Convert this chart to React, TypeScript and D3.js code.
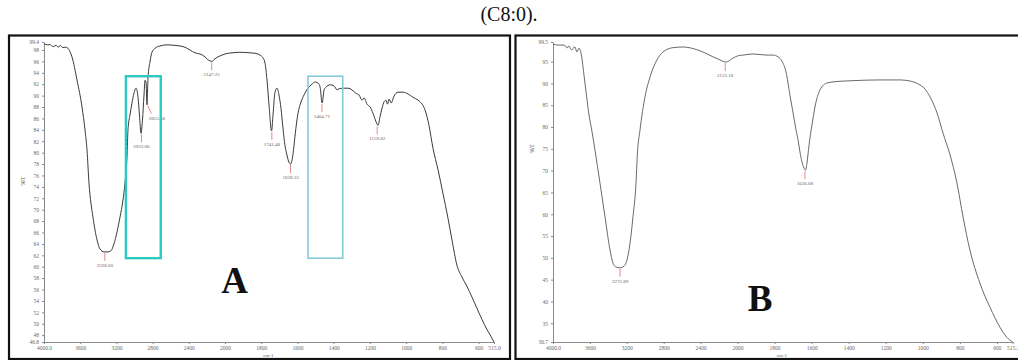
import { useEffect, useRef } from "react";
import * as d3 from "d3";

// spectrum A: [wavenumber cm-1, %T]
const spectrumA: [number, number][] = [
  [4000, 99.1], [3960, 98.9], [3934, 98.95], [3900, 98.6], [3867, 98.8], [3840, 98.5],
  [3823, 98.8], [3790, 98.4], [3768, 98.5], [3735, 98.3], [3713, 97.7], [3691, 96.8],
  [3635, 92.7], [3580, 88.0], [3547, 84.0], [3525, 80.5], [3503, 74.7], [3459, 68.7],
  [3414, 64.7], [3381, 63.1], [3337, 62.6], [3293, 62.6], [3260, 62.8], [3227, 64.0],
  [3193, 66.1], [3160, 68.7], [3127, 71.7], [3105, 74.7], [3083, 79.2], [3072, 84.0],
  [3050, 86.6], [3028, 88.7], [3006, 90.4], [2983, 91.3], [2972, 90.9], [2961, 89.7],
  [2945, 86.6], [2928, 83.4], [2912, 85.7], [2895, 90.1], [2884, 92.7], [2873, 92.4],
  [2862, 88.4], [2851, 93.1], [2829, 95.9], [2807, 97.6], [2773, 98.3], [2718, 98.7],
  [2641, 98.9], [2552, 98.8], [2464, 98.6], [2420, 98.3], [2387, 98.0], [2331, 97.5],
  [2276, 97.3], [2221, 96.8], [2190, 96.3], [2166, 96.1], [2140, 96.0], [2122, 96.3],
  [2077, 96.8], [2033, 97.1], [2000, 97.3], [1961, 97.5], [1917, 97.6], [1862, 97.5],
  [1829, 97.4], [1807, 97.1], [1790, 96.6], [1779, 95.7], [1768, 92.7], [1757, 88.3],
  [1743, 83.8], [1735, 86.6], [1724, 90.6], [1713, 91.3], [1702, 90.1], [1691, 87.8],
  [1680, 84.3], [1669, 81.3], [1658, 79.6], [1647, 78.3], [1638, 78.0], [1630, 78.7],
  [1622, 80.4], [1613, 83.1], [1597, 86.9], [1580, 88.9], [1564, 90.1], [1542, 91.3],
  [1520, 92.0], [1503, 92.4], [1486, 92.2], [1475, 91.5], [1464, 88.7], [1453, 91.0],
  [1442, 91.5], [1420, 91.9], [1398, 91.7], [1381, 91.0], [1370, 91.2], [1348, 91.3],
  [1321, 91.3], [1299, 91.0], [1277, 90.4], [1260, 90.1], [1243, 89.2], [1232, 89.6],
  [1216, 88.5], [1199, 88.0], [1183, 86.9], [1166, 85.4], [1155, 84.8], [1144, 86.3],
  [1133, 87.8], [1122, 88.9], [1111, 89.2], [1103, 88.5], [1094, 89.4], [1083, 88.7],
  [1067, 89.9], [1045, 90.6], [1017, 90.6], [990, 90.3], [962, 89.7], [934, 89.2],
  [923, 88.9], [896, 87.5], [874, 84.8], [852, 80.8], [824, 77.0], [797, 72.9],
  [769, 68.5], [747, 64.7], [720, 60.3], [692, 58.2], [665, 56.6], [637, 54.7],
  [609, 52.7], [582, 50.8], [554, 49.0], [532, 47.8], [515, 46.8],
];

// spectrum B
const spectrumB: [number, number][] = [
  [4000, 99.0], [3946, 98.8], [3892, 98.8], [3860, 98.5], [3848, 98.1], [3827, 98.6],
  [3810, 97.9], [3794, 97.7], [3775, 98.3], [3762, 98.35], [3740, 97.2], [3718, 98.1],
  [3689, 96.1], [3664, 91.9], [3635, 86.9], [3610, 82.8], [3580, 79.3], [3545, 74.7],
  [3491, 67.2], [3436, 59.4], [3382, 51.8], [3350, 48.8], [3317, 47.9], [3274, 47.7],
  [3230, 48.1], [3198, 49.5], [3165, 53.4], [3133, 59.4], [3100, 67.2], [3086, 73.6],
  [3057, 79.3], [3003, 86.9], [2948, 91.5], [2873, 95.4], [2808, 97.2], [2699, 98.2],
  [2591, 98.35], [2482, 98.0], [2374, 97.2], [2266, 96.1], [2190, 95.4], [2125, 94.9],
  [2049, 95.8], [2000, 96.3], [1970, 96.5], [1916, 96.75], [1841, 96.5], [1808, 96.5],
  [1781, 96.1], [1760, 95.1], [1738, 92.6], [1717, 87.3], [1700, 83.2], [1684, 79.3],
  [1673, 77.0], [1663, 74.3], [1652, 72.0], [1641, 70.6], [1633, 70.1], [1625, 71.75],
  [1620, 73.6], [1609, 77.5], [1598, 80.5], [1582, 84.6], [1555, 88.5], [1517, 90.1],
  [1474, 90.4], [1420, 90.55], [1339, 90.7], [1231, 90.8], [1123, 90.8], [1069, 90.55],
  [1026, 89.9], [988, 88.7], [961, 86.9], [923, 83.2], [891, 78.6], [853, 73.6],
  [816, 67.2], [783, 59.4], [746, 51.8], [692, 44.2], [638, 38.7], [584, 34.1],
  [547, 31.8], [515, 30.7],
];

const peakLabelsA = ["3328.00", "2923.06", "2853.58", "2147.25", "1741.48", "1638.33", "1464.71", "1159.82"];
const peakLabelsB = ["3272.89", "2133.18", "1636.08"];

const xTicks = [4000, 3600, 3200, 2800, 2400, 2000, 1800, 1600, 1400, 1200, 1000, 800, 600, 515];
const xTickLabelsA = ["4000.0", "3600", "3200", "2800", "2400", "2000", "1800", "1600", "1400", "1200", "1000", "800", "600", "515.0"];
const xTickLabelsB = ["4000.0", "3600", "3200", "2800", "2400", "2000", "1800", "1600", "1400", "1200", "1000", "800", "600", "515.1"];

const yTicksA = [46.8, 48, 50, 52, 54, 56, 58, 60, 62, 64, 66, 68, 70, 72, 74, 76, 78, 80, 82, 84, 86, 88, 90, 92, 94, 96, 98, 99.4];
const yTicksB = [30.7, 35, 40, 45, 50, 55, 60, 65, 70, 75, 80, 85, 90, 95, 99.5];

// highlighted regions in A: [from wn, to wn]
const boxesA: [number, number][] = [[3095, 2710], [1542, 1350]];
const boxRangeA: [number, number] = [61.5, 93.4];
const boxColors = ["#2cc9c2", "#86cadb"];

type Panel = {
  frame: [number, number, number, number];
  xr: [number, number, number];
  yDomain: [number, number];
  data: [number, number][];
  peaks: string[];
  xLabels: string[];
  yTicks: number[];
  letter: string;
  letterPos: [number, number];
  lineColor: string;
};

const drawPanel = (svg: any, p: Panel) => {
  const [fx0, fy0, fx1, fy1] = p.frame;
  svg.append("rect")
    .attr("x", fx0).attr("y", fy0)
    .attr("width", fx1 - fx0).attr("height", fy1 - fy0)
    .attr("fill", "none").attr("stroke", "#111").attr("stroke-width", 2.2);

  const x = d3.scaleLinear().domain([4000, 2000, 515]).range(p.xr);
  const y = d3.scaleLinear().domain(p.yDomain).range([342, 42]);

  const styleAxis = (g: any) => {
    g.attr("font-family", "Liberation Serif").attr("font-size", 5.5);
    g.select(".domain").attr("stroke", "#8a8a8a");
    g.selectAll(".tick line").attr("stroke", "#8a8a8a");
    g.selectAll(".tick text").attr("fill", "#6a6a6a");
  };

  svg.append("g")
    .attr("transform", `translate(0,${y(p.yDomain[0])})`)
    .call(d3.axisBottom(x).tickValues(xTicks).tickSize(2).tickSizeOuter(0).tickPadding(2)
      .tickFormat((_d: any, i: number) => p.xLabels[i]))
    .call(styleAxis);

  svg.append("g")
    .attr("transform", `translate(${p.xr[0]},0)`)
    .call(d3.axisLeft(y).tickValues(p.yTicks).tickSize(2).tickSizeOuter(0).tickPadding(3)
      .tickFormat((d: any) => String(d)))
    .call(styleAxis);

  svg.append("text")
    .attr("transform", `translate(${p.xr[0] - 19},${y(75)}) rotate(-90)`)
    .attr("text-anchor", "middle")
    .attr("font-family", "Liberation Serif").attr("font-size", 6.5).attr("fill", "#555")
    .text("%T");

  svg.append("text")
    .attr("x", x(1760)).attr("y", 357)
    .attr("text-anchor", "middle")
    .attr("font-family", "Liberation Serif").attr("font-size", 5).attr("fill", "#666")
    .text("cm-1");

  const line = d3.line<[number, number]>()
    .x((d) => x(d[0]))
    .y((d) => y(d[1]))
    .curve(d3.curveMonotoneX);

  svg.append("path")
    .datum(p.data)
    .attr("d", line)
    .attr("fill", "none")
    .attr("stroke", p.lineColor)
    .attr("stroke-width", 1);

  p.peaks.forEach((lab) => {
    const w = parseFloat(lab);
    const px = x(w);
    // deepest point of the band near the labelled wavenumber
    const near = p.data.filter((d) => Math.abs(d[0] - w) <= 12);
    const tMin = d3.min(near, (d) => d[1]) as number;
    const py = y(tMin) + 1;
    const off = lab === "2853.58" ? 9 : 0;
    svg.append("line")
      .attr("x1", px).attr("y1", py)
      .attr("x2", px + off * 0.4).attr("y2", py + 8)
      .attr("stroke", "#e57a7a").attr("stroke-width", 0.9);
    svg.append("text")
      .attr("x", px + off).attr("y", py + 14)
      .attr("text-anchor", "middle")
      .attr("font-family", "Liberation Serif").attr("font-size", 5).attr("fill", "#666")
      .text(lab);
  });

  svg.append("text")
    .attr("x", p.letterPos[0]).attr("y", p.letterPos[1])
    .attr("text-anchor", "middle")
    .attr("font-family", "Liberation Serif").attr("font-size", 37)
    .attr("font-weight", "bold").attr("fill", "#111")
    .text(p.letter);

  return { x, y };
};

const App = () => {
  const ref = useRef<SVGSVGElement>(null);

  useEffect(() => {
    const svg = d3.select(ref.current);
    svg.selectAll("*").remove();

    svg.append("text")
      .attr("x", 509).attr("y", 21)
      .attr("text-anchor", "middle")
      .attr("font-family", "Liberation Serif").attr("font-size", 20).attr("fill", "#111")
      .text("(C8:0).");

    const a = drawPanel(svg, {
      frame: [9, 35.5, 510, 359],
      xr: [44, 225, 494],
      yDomain: [46.8, 99.4],
      data: spectrumA,
      peaks: peakLabelsA,
      xLabels: xTickLabelsA,
      yTicks: yTicksA,
      letter: "A",
      letterPos: [234.5, 293],
      lineColor: "#3a3a3a",
    });

    drawPanel(svg, {
      frame: [515.5, 35.5, 1022, 359],
      xr: [553, 737.5, 1012.7],
      yDomain: [30.7, 99.5],
      data: spectrumB,
      peaks: peakLabelsB,
      xLabels: xTickLabelsB,
      yTicks: yTicksB,
      letter: "B",
      letterPos: [760, 311],
      lineColor: "#6a6a6a",
    });

    boxesA.forEach((b, i) => {
      const x0 = a.x(b[0]);
      const x1 = a.x(b[1]);
      const y0 = a.y(boxRangeA[1]);
      const y1 = a.y(boxRangeA[0]);
      svg.append("rect")
        .attr("x", x0).attr("y", y0)
        .attr("width", x1 - x0).attr("height", y1 - y0)
        .attr("fill", "none")
        .attr("stroke", boxColors[i])
        .attr("stroke-width", i === 0 ? 2.4 : 1.6);
    });
  }, []);

  return (
    <svg
      ref={ref}
      width={1018}
      height={360}
      style={{ position: "absolute", left: 0, top: 0, background: "#fff" }}
    ></svg>
  );
};

export default App;
